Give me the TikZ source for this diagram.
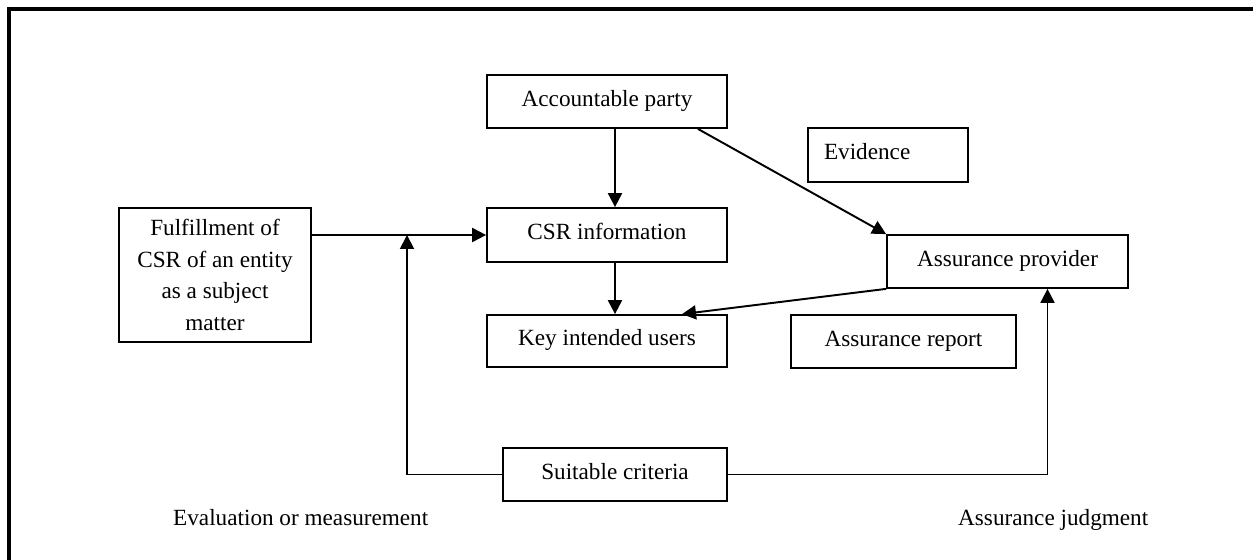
\documentclass[tikz,border=0pt]{standalone}
\usepackage{fontspec}
\setmainfont{Liberation Serif}
\usetikzlibrary{arrows.meta,calc,positioning}

\begin{document}
\begin{tikzpicture}[x=0.02cm,y=-0.02cm,
  font=\fontsize{13.2}{17.9}\selectfont,
  box/.style={draw,line width=1pt,inner sep=1pt,minimum height=1.06cm},
  onebox/.style={box,text height=9pt,text depth=3.4pt},
  arr/.style={line width=1.1pt,-{Triangle[length=0.28cm,width=0.28cm]}}]
\useasboundingbox (0,0) rectangle (1253,560);
\draw[line width=2pt] (1253,9) -- (9,9) -- (9,560);
% boxes
\node[onebox,minimum width=4.8cm] (acc) at (607,101.5) {Accountable party};
\node[onebox,minimum width=4.8cm,minimum height=1.08cm] (csr) at (607,235) {CSR information};
\node[onebox,minimum width=4.8cm,minimum height=1.04cm] (users) at (607,341) {Key intended users};
\node[onebox,text width=2.56cm,inner xsep=0.32cm,align=left,minimum height=1.08cm] (evid) at (888,155) {Evidence};
\node[onebox,minimum width=4.82cm] (prov) at (1007.5,261.5) {Assurance provider};
\node[onebox,minimum width=4.5cm] (rep) at (903.5,341.5) {Assurance report};
\node[onebox,minimum width=4.48cm] (crit) at (615,474.5) {Suitable criteria};
\node[box,minimum width=3.84cm,minimum height=2.68cm,align=center] (ful) at (215,275)
  {Fulfillment of\\CSR of an entity\\as a subject\\matter};
\node[anchor=base west] (eval) at (167,525) {Evaluation or measurement};
\node[anchor=base west] (judg) at (952,525) {Assurance judgment};
% arrows
\coordinate (join) at (407,235);
\draw[arr] ($(acc.south)+(8,0)$) -- ($(csr.north)+(8,0)$);
\draw[arr] ($(csr.south)+(8,0)$) -- ($(users.north)+(8,0)$);
\draw[arr] ($(acc.south east)+(-30,0)$) -- (prov.north west);
\draw[arr] (prov.south west) -- ($(users.north)+(75,0)$);
\draw[arr] (csr.west -| ful.east) -- (csr.west);
\draw[arr] (crit.west) -| (join);
\draw[arr] (crit.east) -| ($(prov.south)+(40,0)$);
\end{tikzpicture}
\end{document}
